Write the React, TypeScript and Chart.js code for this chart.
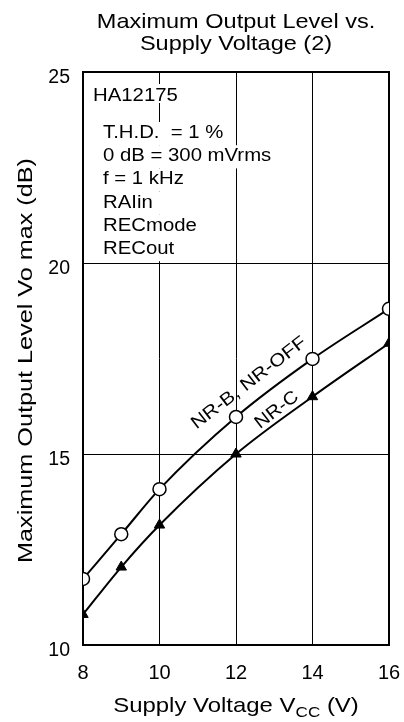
import React, { useEffect, useRef } from "react";
import { Chart, registerables } from "chart.js";

Chart.register(...registerables);

const supplyVoltage = [8, 9, 10, 12, 14, 16];
const nrBOff = [11.73, 12.9, 14.08, 15.97, 17.49, 18.8];
const nrC = [10.8, 12.04, 13.14, 15.0, 16.5, 17.9];
const xTicks = [8, 10, 12, 14, 16];
const yTicks = [10, 15, 20, 25];
const titleLines = ["Maximum Output Level vs.", "Supply Voltage (2)"];
const noteHeader = "HA12175";
const noteLines = ["T.H.D.  = 1 %", "0 dB = 300 mVrms", "f = 1 kHz", "RAIin", "RECmode", "RECout"];
const seriesLabels = ["NR-B, NR-OFF", "NR-C"];
const yTitle = "Maximum Output Level Vo max (dB)";

const FONT = "Arial, 'Liberation Sans', sans-serif";
const SX = 1.13;

function stretchText(ctx: any, t: string, x: number, y: number, size: number, sx: number, align: string) {
  ctx.save();
  ctx.font = `${size}px ${FONT}`;
  ctx.textAlign = align;
  ctx.textBaseline = "alphabetic";
  ctx.translate(x, y);
  ctx.scale(sx, 1);
  ctx.fillText(t, 0, 0);
  ctx.restore();
}

const decorPlugin = {
  id: "decor",
  beforeDatasetsDraw(chart: any) {
    const { ctx, chartArea: ca } = chart;
    ctx.save();
    ctx.font = `18px ${FONT}`;
    const boxed = (t: string, x: number, base: number, top: number, bottom: number) => {
      const w = ctx.measureText(t).width * SX;
      ctx.fillStyle = "#fff";
      ctx.fillRect(x - 2, top, Math.max(w, 70) + 4, bottom - top);
      ctx.fillStyle = "#000";
      stretchText(ctx, t, x, base, 18, SX, "left");
    };
    boxed(noteHeader, ca.left + 10, ca.top + 29, ca.top + 12, ca.top + 31);
    noteLines.forEach((t, i) => {
      const base = ca.top + 66 + i * 23.2;
      boxed(t, ca.left + 20, base, base - 16, base + 7.2);
    });
    ctx.strokeStyle = "#000";
    ctx.lineWidth = 2;
    ctx.strokeRect(ca.left, ca.top, ca.right - ca.left, ca.bottom - ca.top);
    ctx.restore();
  },
  afterDraw(chart: any) {
    const { ctx, chartArea: ca, scales } = chart;
    const cx = (ca.left + ca.right) / 2;
    ctx.save();
    ctx.fillStyle = "#000";
    // title
    stretchText(ctx, titleLines[0], cx, 28, 21, 1.12, "center");
    stretchText(ctx, titleLines[1], cx, 50, 21, 1.12, "center");
    // x axis title with subscript
    const p1 = "Supply Voltage V";
    const sub = "CC";
    const p2 = " (V)";
    const xsx = 1.14;
    ctx.font = `21px ${FONT}`;
    const w1 = ctx.measureText(p1).width * xsx;
    const w3 = ctx.measureText(p2).width * xsx;
    ctx.font = `15px ${FONT}`;
    const w2 = ctx.measureText(sub).width * xsx;
    let x = cx - (w1 + w2 + w3) / 2;
    const y = 712;
    stretchText(ctx, p1, x, y, 21, xsx, "left");
    x += w1;
    stretchText(ctx, sub, x, y + 5, 15, xsx, "left");
    x += w2;
    stretchText(ctx, p2, x, y, 21, xsx, "left");
    // y axis title
    ctx.font = `21px ${FONT}`;
    const yw = ctx.measureText(yTitle).width;
    ctx.save();
    ctx.translate(32, (ca.top + ca.bottom) / 2 + 2);
    ctx.rotate(-Math.PI / 2);
    ctx.scale(405 / yw, 1);
    ctx.textAlign = "center";
    ctx.textBaseline = "alphabetic";
    ctx.fillText(yTitle, 0, 0);
    ctx.restore();
    // series labels
    const xs = scales.x;
    const ys = scales.y;
    const ang = (-37.5 * Math.PI) / 180;
    const lbl = (t: string, vx: number, vy: number, len: number) => {
      ctx.save();
      ctx.font = `18px ${FONT}`;
      const w = ctx.measureText(t).width;
      ctx.translate(xs.getPixelForValue(vx), ys.getPixelForValue(vy));
      ctx.rotate(ang);
      ctx.scale(len / w, 1);
      ctx.textAlign = "center";
      ctx.textBaseline = "middle";
      ctx.fillText(t, 0, 0);
      ctx.restore();
    };
    lbl(seriesLabels[0], 12.34, 16.86, 140);
    lbl(seriesLabels[1], 13.07, 16.15, 50);
    ctx.restore();
  },
};

export default function App() {
  const ref = useRef<HTMLCanvasElement>(null);
  useEffect(() => {
    if (!ref.current) return;
    const chart = new Chart(ref.current, {
      type: "line",
      data: {
        datasets: [
          {
            label: seriesLabels[0],
            data: supplyVoltage.map((v, i) => ({ x: v, y: nrBOff[i] })),
            borderColor: "#000",
            borderWidth: 2,
            pointStyle: "circle",
            pointRadius: 6.5,
            pointBackgroundColor: "#fff",
            pointBorderColor: "#000",
            pointBorderWidth: 1.5,
            cubicInterpolationMode: "monotone",
          },
          {
            label: seriesLabels[1],
            data: supplyVoltage.map((v, i) => ({ x: v, y: nrC[i] })),
            borderColor: "#000",
            borderWidth: 2,
            pointStyle: "triangle",
            pointRadius: 6,
            pointBackgroundColor: "#000",
            pointBorderColor: "#000",
            pointBorderWidth: 1,
            cubicInterpolationMode: "monotone",
          },
        ],
      },
      options: {
        responsive: false,
        animation: false,
        events: [],
        layout: { padding: { top: 72, right: 15, left: 0, bottom: 0 } },
        plugins: { legend: { display: false }, tooltip: { enabled: false }, title: { display: false } },
        scales: {
          x: {
            type: "linear",
            min: 8,
            max: 16,
            afterFit: (s: any) => {
              s.height = 77;
              s.paddingLeft = 0;
              s.paddingRight = 0;
            },
            afterBuildTicks: (s: any) => { s.ticks = xTicks.map((v) => ({ value: v })); },
            ticks: { color: "#000", font: { size: 20, family: FONT }, padding: 16, maxRotation: 0 },
            grid: { color: "#000", lineWidth: 1, drawTicks: false },
            border: { display: false },
          },
          y: {
            type: "linear",
            min: 10,
            max: 25,
            afterFit: (s: any) => {
              s.width = 83;
              s.paddingTop = 0;
              s.paddingBottom = 0;
            },
            afterBuildTicks: (s: any) => { s.ticks = yTicks.map((v) => ({ value: v })); },
            ticks: {
              color: "#000",
              font: { size: 19.5, family: FONT, lineHeight: 0.55 },
              padding: 13,
              callback: (v: any) => ["", String(v)],
            },
            grid: { color: "#000", lineWidth: 1, drawTicks: false },
            border: { display: false },
          },
        },
      },
      plugins: [decorPlugin],
    });
    return () => chart.destroy();
  }, []);
  return (
    <div style={{ position: "absolute", left: 0, top: 0, width: 404, height: 722, background: "#fff" }}>
      <canvas ref={ref} width={404} height={722} style={{ width: 404, height: 722 }} />
    </div>
  );
}
